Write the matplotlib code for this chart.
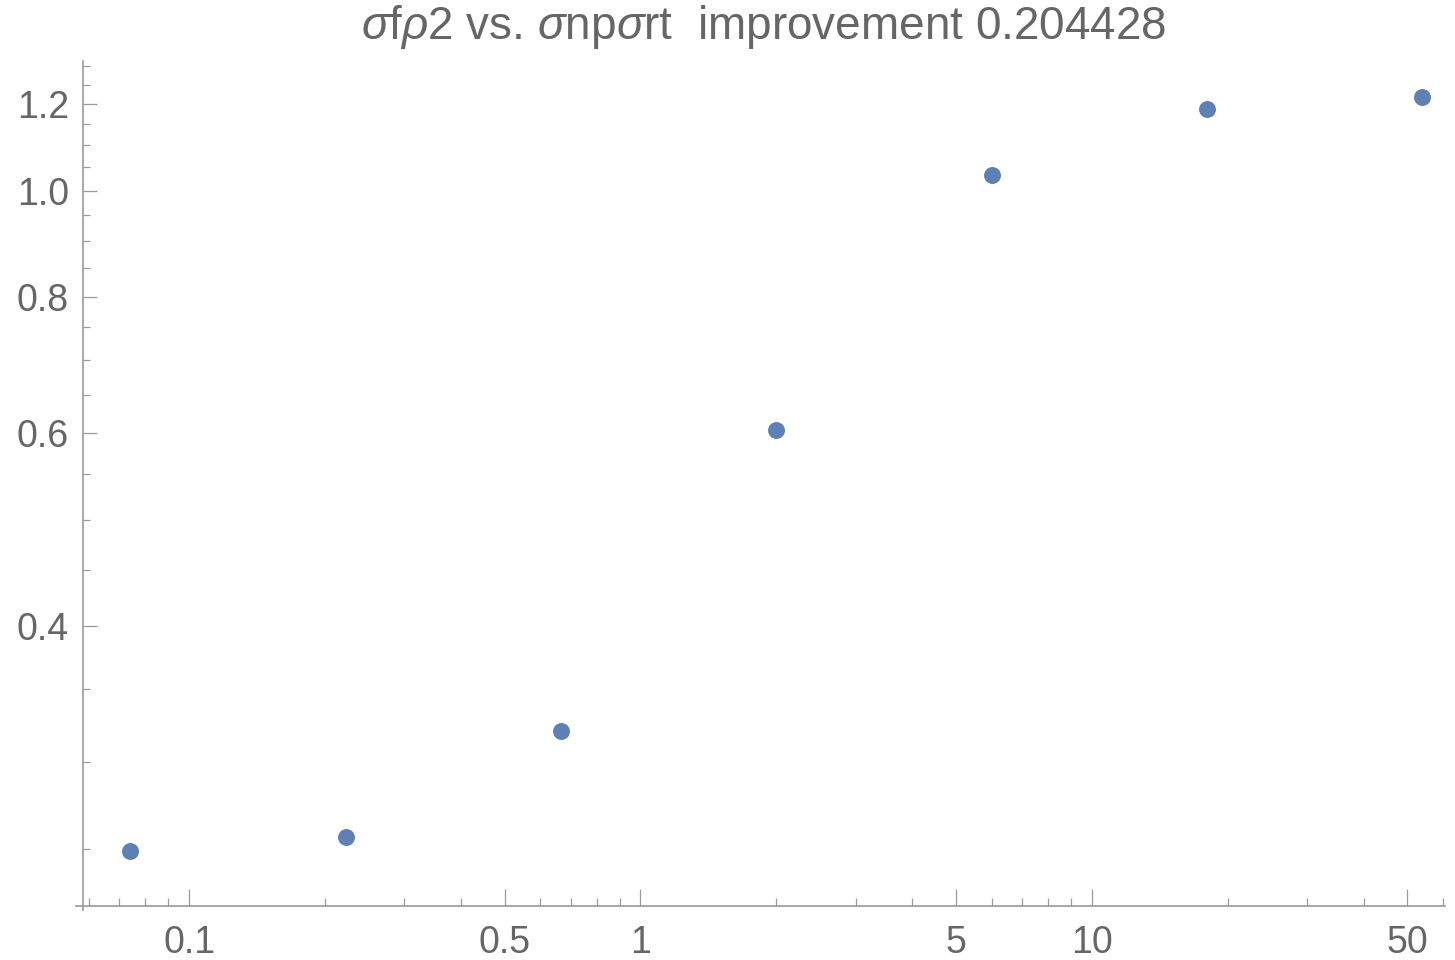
import matplotlib
matplotlib.use("Agg")
import matplotlib.pyplot as plt
from matplotlib.ticker import FixedLocator, NullFormatter

# Data
x_vals = [2/27, 2/9, 2/3, 2.0, 6.0, 18.0, 54.0]
y_vals = [0.2489, 0.2561, 0.3205, 0.6044, 1.0330, 1.1886, 1.2176]

x_major = [0.1, 0.5, 1, 5, 10, 50]
x_major_labels = ["0.1", "0.5", "1", "5", "10", "50"]
x_minor = [0.06, 0.07, 0.08, 0.09, 0.2, 0.3, 0.4, 0.6, 0.7, 0.8, 0.9,
           2, 3, 4, 6, 7, 8, 9, 20, 30, 40, 60]
y_major = [0.4, 0.6, 0.8, 1.0, 1.2]
y_major_labels = ["0.4", "0.6", "0.8", "1.0", "1.2"]
y_minor = [0.25, 0.3, 0.35, 0.45, 0.5, 0.55, 0.65, 0.7, 0.75, 0.85, 0.9,
           0.95, 1.05, 1.1, 1.15, 1.25, 1.3]

title = r"$\sigma$f$\rho$2 vs. $\sigma$np$\sigma$rt  improvement 0.204428"

plt.rcParams['font.family'] = ['Liberation Sans', 'DejaVu Sans']
plt.rcParams['mathtext.fontset'] = 'custom'
plt.rcParams['mathtext.it'] = 'Liberation Sans:italic'
plt.rcParams['mathtext.rm'] = 'Liberation Sans'

label_col = '#666666'
axis_col = '#9a9a9a'

fig = plt.figure(figsize=(14.55, 9.6), dpi=100)
ax = fig.add_axes([0.05684, 0.05625, 0.99292 - 0.05684, 0.93677 - 0.05625])
ax.set_xscale('log')
ax.set_yscale('log')

ax.plot(x_vals, y_vals, 'o', color='#5E81B5', markersize=12.2,
        markeredgewidth=0, clip_on=False)

ax.set_xlim(0.05812, 60.52)
ax.set_ylim(0.2216, 1.3149)

for s in ['top', 'right']:
    ax.spines[s].set_visible(False)
for s in ['left', 'bottom']:
    ax.spines[s].set_color(axis_col)
    ax.spines[s].set_linewidth(1.2)
ax.spines['bottom'].set_bounds(0.0562, 60.52)
ax.spines['left'].set_bounds(0.2197, 1.3149)

ax.xaxis.set_major_locator(FixedLocator(x_major))
ax.xaxis.set_minor_locator(FixedLocator(x_minor))
ax.set_xticklabels(x_major_labels)
ax.xaxis.set_minor_formatter(NullFormatter())
ax.yaxis.set_major_locator(FixedLocator(y_major))
ax.yaxis.set_minor_locator(FixedLocator(y_minor))
ax.set_yticklabels(y_major_labels)
ax.yaxis.set_minor_formatter(NullFormatter())

ax.tick_params(axis='x', which='major', direction='in', length=12, width=0.9,
               color=axis_col, labelcolor=label_col, labelsize=27, pad=14)
ax.tick_params(axis='x', which='minor', direction='in', length=6, width=0.9,
               color=axis_col)
ax.tick_params(axis='y', which='major', direction='in', length=10, width=0.9,
               color=axis_col, labelcolor=label_col, labelsize=27, pad=10)
ax.tick_params(axis='y', which='minor', direction='in', length=5, width=0.9,
               color=axis_col)

ax.set_title(title, color=label_col, fontsize=33, pad=15.4)

fig.savefig('out.png', dpi=100)
